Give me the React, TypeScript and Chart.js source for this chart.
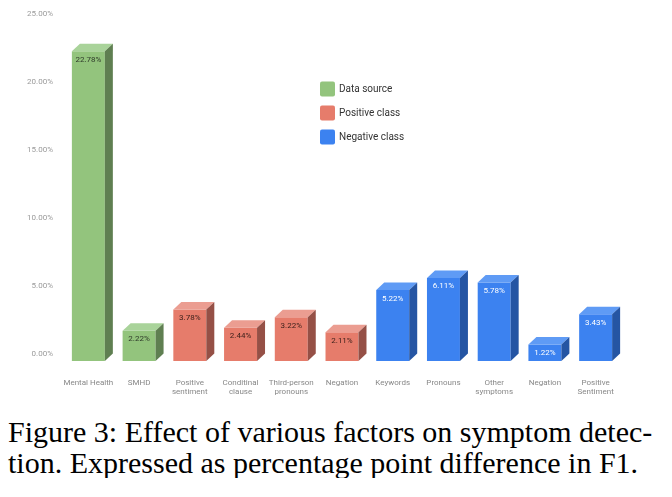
import React, { useEffect, useRef } from "react";
import { Chart, registerables } from "chart.js";

Chart.register(...registerables);

// Factor labels (multi-line where the chart wraps them)
const categories: (string | string[])[] = [
  "Mental Health",
  "SMHD",
  ["Positive", "sentiment"],
  ["Conditinal", "clause"],
  ["Third-person", "pronouns"],
  "Negation",
  "Keywords",
  "Pronouns",
  ["Other", "symptoms"],
  "Negation",
  ["Positive", "Sentiment"],
];
const values = [22.78, 2.22, 3.78, 2.44, 3.22, 2.11, 5.22, 6.11, 5.78, 1.22, 3.43];
// 0 = data source, 1 = positive class, 2 = negative class
const groups = [0, 0, 1, 1, 1, 1, 2, 2, 2, 2, 2];
const groupNames = ["Data source", "Positive class", "Negative class"];
const yTicks = [0, 5, 10, 15, 20, 25];

const front = ["#93c47d", "#e67c6b", "#3c82f0"];
const topFace = ["#a9d39a", "#eb9d91", "#5f9bf5"];
const sideFace = ["#5f7f51", "#955046", "#2555a3"];
const labelColor = ["#2f3b2a", "#3a1f1a", "#ffffff"];

const DX = 8;
const DY = 7.5;

const boxPlugin = {
  id: "box3d",
  afterDatasetsDraw(chart: any) {
    const ctx = chart.ctx;
    const meta = chart.getDatasetMeta(0);
    const yScale = chart.scales.y;
    ctx.save();
    meta.data.forEach((bar: any, i: number) => {
      const g = groups[i];
      const { x, y, base, width } = bar.getProps(["x", "y", "base", "width"], true);
      const l = x - width / 2;
      const r = x + width / 2;
      // top face
      ctx.fillStyle = topFace[g];
      ctx.beginPath();
      ctx.moveTo(l, y);
      ctx.lineTo(l + DX, y - DY);
      ctx.lineTo(r + DX, y - DY);
      ctx.lineTo(r, y);
      ctx.closePath();
      ctx.fill();
      // side face
      ctx.fillStyle = sideFace[g];
      ctx.beginPath();
      ctx.moveTo(r, y);
      ctx.lineTo(r + DX, y - DY);
      ctx.lineTo(r + DX, base - DY);
      ctx.lineTo(r, base);
      ctx.closePath();
      ctx.fill();
      // value label
      ctx.fillStyle = labelColor[g];
      ctx.font = "8px Roboto";
      ctx.textAlign = "center";
      ctx.textBaseline = "middle";
      ctx.fillText(values[i].toFixed(2) + "%", x, y + 8.5);
    });

    // y tick labels sit on the back plane
    ctx.fillStyle = "#9a9a9a";
    ctx.font = "8px Roboto";
    ctx.textAlign = "right";
    ctx.textBaseline = "middle";
    yTicks.forEach((t) => {
      ctx.fillText(t.toFixed(2) + "%", 53, yScale.getPixelForValue(t) - DY);
    });

    // legend
    ctx.font = "10px Roboto";
    ctx.textAlign = "left";
    groupNames.forEach((name, k) => {
      const cy = 89 + k * 24;
      ctx.fillStyle = front[k];
      ctx.beginPath();
      ctx.roundRect(320, cy - 7.5, 15, 15, 2);
      ctx.fill();
      ctx.fillStyle = "#333333";
      ctx.fillText(name, 339, cy);
    });
    ctx.restore();
  },
};

const App: React.FC = () => {
  const canvasRef = useRef<HTMLCanvasElement | null>(null);
  const chartRef = useRef<Chart | null>(null);

  useEffect(() => {
    document.body.style.margin = "0";
    if (chartRef.current) chartRef.current.destroy();
    if (canvasRef.current) {
      chartRef.current = new Chart(canvasRef.current, {
        type: "bar",
        data: {
          labels: categories as any,
          datasets: [
            {
              data: values,
              backgroundColor: groups.map((g) => front[g]),
              borderWidth: 0,
              categoryPercentage: 1,
              barPercentage: 0.65,
            },
          ],
        },
        options: {
          responsive: false,
          animation: false,
          layout: { padding: { left: 63, right: 51, top: 21, bottom: 5 } },
          scales: {
            y: { display: false, min: 0, max: 25 },
            x: {
              offset: true,
              grid: { display: false },
              border: { display: false },
              ticks: {
                color: "#888888",
                font: { family: "Roboto", size: 8 },
                padding: 9,
                maxRotation: 0,
                autoSkip: false,
              },
              afterFit: (scale: any) => {
                scale.height = 34;
              },
            },
          },
          plugins: { legend: { display: false }, tooltip: { enabled: false } },
        },
        plugins: [boxPlugin],
      });
    }
    return () => {
      if (chartRef.current) chartRef.current.destroy();
    };
  }, []);

  return (
    <div style={{ width: 672, background: "#fff" }}>
      <canvas ref={canvasRef} width={672} height={400} style={{ display: "block" }} />
      <div
        style={{
          fontFamily: "'Liberation Serif', serif",
          fontSize: 30,
          lineHeight: "31px",
          color: "#000",
          paddingLeft: 8,
          marginTop: 16,
          whiteSpace: "pre",
        }}
      >
        {"Figure 3: Effect of various factors on symptom detec-\ntion. Expressed as percentage point difference in F1."}
      </div>
    </div>
  );
};

export default App;
